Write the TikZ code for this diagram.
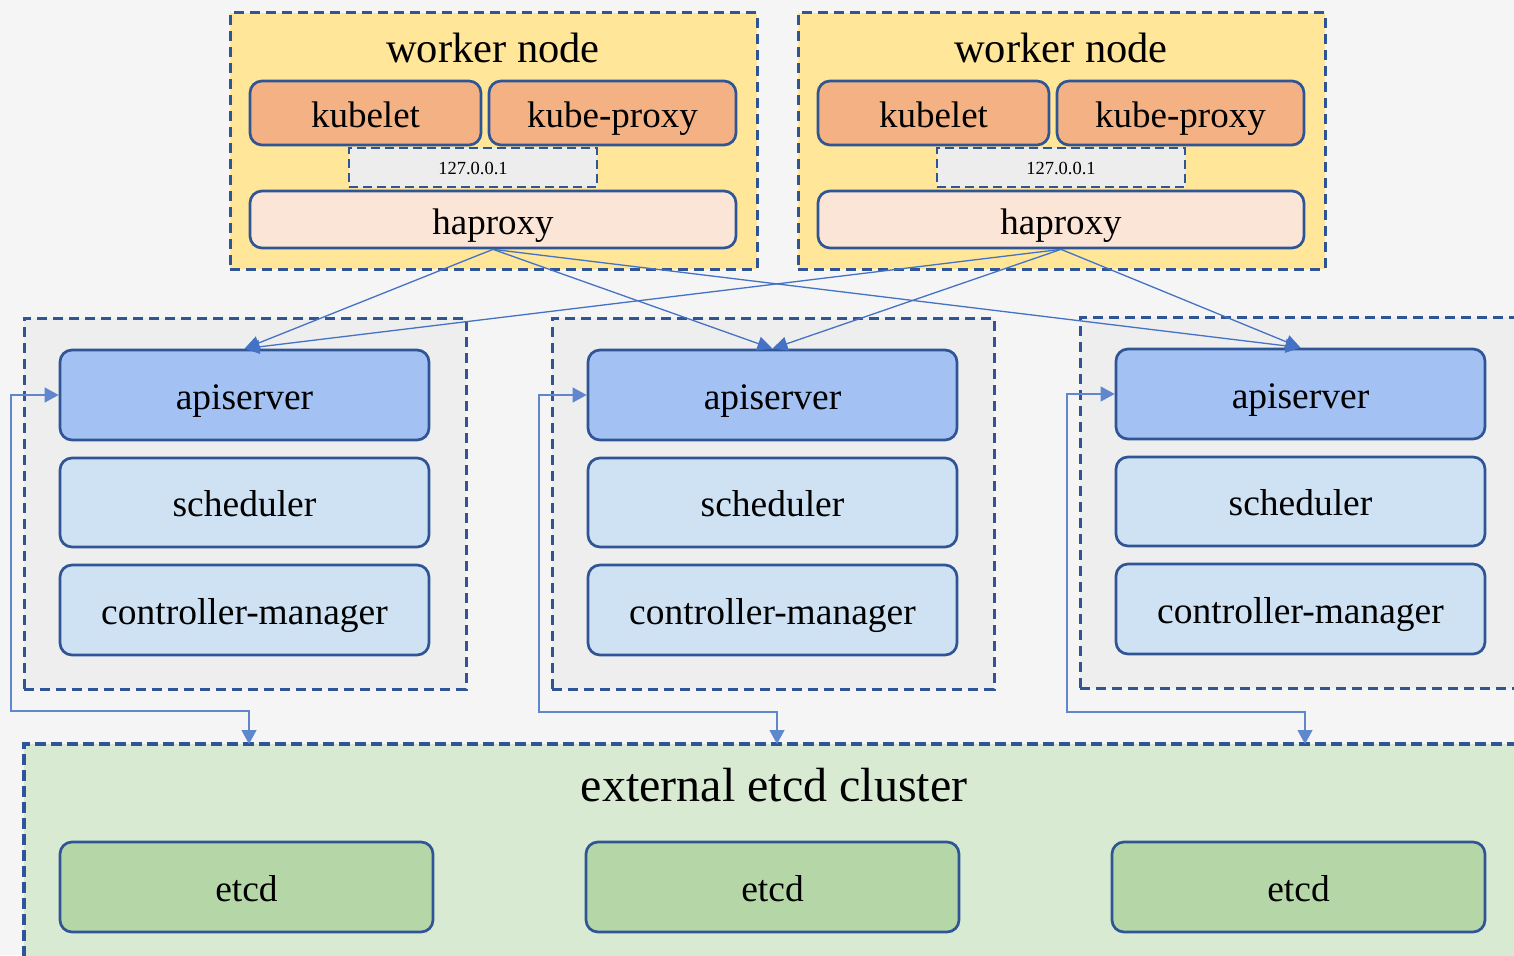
\documentclass[tikz,border=0pt]{standalone}
\usepackage{fontspec}
\setmainfont{Liberation Serif}
\usetikzlibrary{arrows.meta}
\definecolor{bgc}{HTML}{F5F5F5}
\definecolor{yel}{HTML}{FFE699}
\definecolor{org}{HTML}{F4B183}
\definecolor{pch}{HTML}{FBE5D6}
\definecolor{lgr}{HTML}{EDEDED}
\definecolor{mfill}{HTML}{EEEEEE}
\definecolor{apic}{HTML}{A3C1F3}
\definecolor{schc}{HTML}{CFE2F3}
\definecolor{etcc}{HTML}{D9EAD3}
\definecolor{etcd}{HTML}{B5D7A8}
\definecolor{bdr}{HTML}{2F5597}
\definecolor{arr}{HTML}{4472C4}
\tikzset{
  rbox/.style={draw=bdr, line width=2.7pt, rounded corners=12pt, inner sep=0pt},
  wbox/.style={draw=bdr, line width=3pt, dash pattern=on 10pt off 6pt, inner sep=0pt},
  cbox/.style={draw=bdr, line width=3.6pt, dash pattern=on 11pt off 5pt, inner sep=0pt},
  lobox/.style={draw=bdr, line width=2.6pt, dash pattern=on 9pt off 5pt, inner sep=0pt, fill=lgr,
    font=\fontsize{18.5}{22}\selectfont, text height=15pt, text depth=1pt},
  wtxt/.style={font=\fontsize{37}{44}\selectfont, text height=30pt, text depth=1pt},
  mtxt/.style={font=\fontsize{37.5}{44}\selectfont, text height=30pt, text depth=2pt},
  conn/.style={draw=arr, line width=1.3pt, -{Triangle[length=15pt,width=14pt]}},
  elb/.style={draw=arr!85!white, line width=1.2pt, {Triangle[length=14pt,width=15pt]}-{Triangle[length=14pt,width=15pt]}},
}
\begin{document}
\begin{tikzpicture}[x=1pt,y=-1pt]
\clip (0,0) rectangle (1514,955);
\fill[bgc] (0,0) rectangle (1514,955);
% worker nodes
\foreach \i/\dx/\lx in {1/0/473,2/568/1061}{
  \node[wbox, fill=yel, minimum width=527pt, minimum height=256pt] (wn\i) at (493.5+\dx,141) {};
  \node[font=\fontsize{42.5}{50}\selectfont, text height=29pt, text depth=2pt] (wt\i) at (493+\dx,49) {worker node};
  \node[rbox, wtxt, fill=org, minimum width=231pt, minimum height=64pt] (kl\i) at (365.5+\dx,113) {kubelet};
  \node[rbox, wtxt, fill=org, minimum width=247pt, minimum height=64pt] (kp\i) at (612.5+\dx,113) {kube-proxy};
  \node[lobox, minimum width=248pt, minimum height=39pt] (lo\i) at (\lx,167.5) {127.0.0.1};
  \node[rbox, wtxt, fill=pch, minimum width=486pt, minimum height=57pt] (hap\i) at (493+\dx,219.5) {haproxy};
}
% masters
\foreach \i/\dx/\dy in {1/0/0,2/528/0,3/1056/-1}{
  \node[wbox, fill=mfill, minimum width=442pt, minimum height=371pt] (m\i) at (245+\dx,503.5+\dy) {};
  \node[rbox, mtxt, fill=apic, minimum width=369pt, minimum height=90pt] (api\i) at (244.5+\dx,395+\dy) {apiserver};
  \node[rbox, mtxt, fill=schc, minimum width=369pt, minimum height=89pt] (sch\i) at (244.5+\dx,502.5+\dy) {scheduler};
  \node[rbox, mtxt, fill=schc, minimum width=369pt, minimum height=90pt] (cm\i) at (244.5+\dx,610+\dy) {controller-manager};
}
% etcd cluster
\node[cbox, fill=etcc, minimum width=1506pt, minimum height=226pt] (ec) at (777,857) {};
\node[font=\fontsize{48}{56}\selectfont, text height=33pt, text depth=2pt] (ect) at (774,786) {external etcd cluster};
\node[rbox, mtxt, fill=etcd, minimum width=373pt, minimum height=90pt] (et1) at (246.5,887) {etcd};
\node[rbox, mtxt, fill=etcd, minimum width=373pt, minimum height=90pt] (et2) at (772.5,887) {etcd};
\node[rbox, mtxt, fill=etcd, minimum width=373pt, minimum height=90pt] (et3) at (1298.5,887) {etcd};
\coordinate (ep1) at (249,744);
\coordinate (ep2) at (777,744);
\coordinate (ep3) at (1305,744);
% haproxy -> apiserver
\foreach \h in {1,2}{
  \foreach \a in {1,2,3}{
    \draw[conn] (hap\h.south) -- (api\a.north);
  }
}
% apiserver <-> etcd
\draw[elb] (api1.west) -- (11,395) |- (249,711) -- (ep1);
\draw[elb] (api2.west) -- (539,395) |- (777,712) -- (ep2);
\draw[elb] (api3.west) -- (1067,394) |- (1305,712) -- (ep3);
\end{tikzpicture}
\end{document}
